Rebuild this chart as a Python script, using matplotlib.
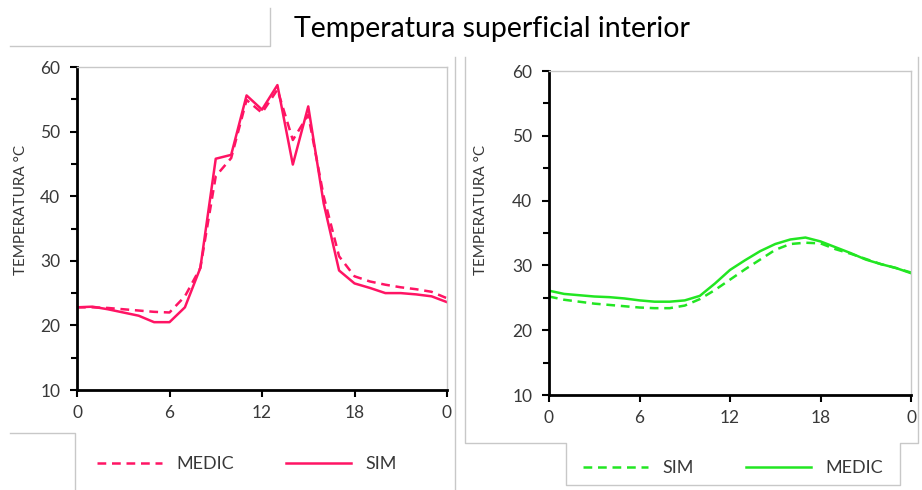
import matplotlib.pyplot as plt
from matplotlib.lines import Line2D
from matplotlib.ticker import MultipleLocator

plt.rcParams['font.family'] = ['Lato', 'DejaVu Sans']

hours = list(range(25))
xtick_pos = [0, 6, 12, 18, 24]
xtick_lab = ['0', '6', '12', '18', '0']

# left chart (pink)
left_sim = [22.8, 22.9, 22.5, 22.0, 21.5, 20.5, 20.5, 22.8, 28.9, 45.8, 46.4, 55.6, 53.4,
            57.2, 44.9, 53.9, 38.9, 28.5, 26.5, 25.8, 25.0, 25.0, 24.8, 24.5, 23.6]
left_medic = [22.8, 22.8, 22.7, 22.5, 22.3, 22.1, 22.0, 24.5, 28.9, 43.1, 45.9, 54.9, 52.9,
              56.5, 48.7, 52.6, 40.0, 30.7, 27.6, 26.8, 26.3, 25.9, 25.6, 25.2, 24.2]

# right chart (green)
right_medic = [26.1, 25.6, 25.4, 25.2, 25.1, 24.9, 24.6, 24.4, 24.4, 24.6, 25.3, 27.2, 29.3,
               30.8, 32.2, 33.3, 34.0, 34.3, 33.7, 32.8, 31.9, 30.9, 30.2, 29.6, 28.8]
right_sim = [25.2, 24.7, 24.4, 24.1, 23.9, 23.7, 23.5, 23.4, 23.4, 23.8, 24.8, 26.2, 27.8,
             29.4, 30.9, 32.4, 33.3, 33.5, 33.4, 32.5, 31.8, 31.0, 30.2, 29.6, 28.9]

pink = '#FF1464'
green = '#22E622'
gray_txt = '#383838'
frame = '#C8C8C8'

fig = plt.figure(figsize=(9.22, 4.9), dpi=100)
W, H = 922.0, 490.0


def style_axes(ax):
    ax.set_xlim(0, 24)
    ax.set_ylim(10, 60)
    ax.set_xticks(xtick_pos)
    ax.set_xticklabels(xtick_lab)
    ax.yaxis.set_major_locator(MultipleLocator(10))
    ax.yaxis.set_minor_locator(MultipleLocator(5))
    for s in ['left', 'bottom']:
        ax.spines[s].set_color('black')
        ax.spines[s].set_linewidth(2.0)
    for s in ['top', 'right']:
        ax.spines[s].set_color(frame)
        ax.spines[s].set_linewidth(1.0)
    ax.tick_params(axis='both', which='major', direction='out', length=5, width=1.5,
                   color='black', labelsize=12.5, labelcolor=gray_txt)
    ax.tick_params(axis='y', which='minor', direction='out', length=4, width=1.5, color='black')
    ax.tick_params(axis='x', pad=6)
    ax.tick_params(axis='y', pad=7)
    ax.set_ylabel('TEMPERATURA °C', fontsize=11, color=gray_txt)


dash = (0, (3.5, 2.3))

ax1 = fig.add_axes([77 / W, 1 - 390 / H, 370 / W, 323 / H])
l_med, = ax1.plot(hours, left_medic, color=pink, lw=1.8, linestyle=dash, label='MEDIC')
l_sim, = ax1.plot(hours, left_sim, color=pink, lw=1.8, label='SIM')
style_axes(ax1)
ax1.yaxis.set_label_coords(-0.132, 0.557)

ax2 = fig.add_axes([549 / W, 1 - 395 / H, 362 / W, 324 / H])
r_sim, = ax2.plot(hours, right_sim, color=green, lw=1.8, linestyle=dash, label='SIM')
r_med, = ax2.plot(hours, right_medic, color=green, lw=1.8, label='MEDIC')
style_axes(ax2)
ax2.yaxis.set_label_coords(-0.168, 0.571)

leg_kw = dict(frameon=False, ncol=2, fontsize=13, handlelength=3.6, handletextpad=0.8,
              columnspacing=2.9, borderpad=0, borderaxespad=0, loc='center left',
              labelcolor=gray_txt)
fig.legend(handles=[l_med, l_sim], bbox_to_anchor=(97 / W, 1 - 464 / H), **leg_kw)
fig.legend(handles=[r_sim, r_med], bbox_to_anchor=(583 / W, 1 - 468 / H), **leg_kw)

fig.text(492 / W, 1 - 29 / H, 'Temperatura superficial interior', fontsize=20.5,
         ha='center', va='center', color='black')


# decorative chart-area borders
def border(xs, ys):
    fig.add_artist(Line2D([x / W for x in xs], [1 - y / H for y in ys],
                          transform=fig.transFigure, color=frame, lw=1.0))


border([10, 270, 270], [46, 46, 8])
border([10, 75, 75], [433, 433, 490])
border([455, 455], [57, 490])
border([465, 465, 566, 566, 900, 900, 918, 918], [57, 443, 443, 485, 485, 443, 443, 57])

fig.savefig('out.png', dpi=100)
